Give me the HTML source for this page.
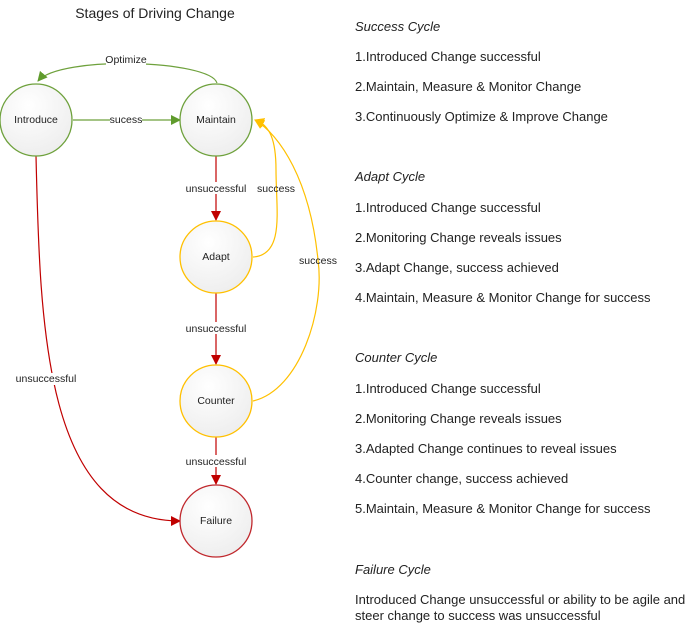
<!DOCTYPE html>
<html><head><style>
body{margin:0;width:698px;height:625px;background:#fff;overflow:hidden;font-family:"Liberation Sans",sans-serif;}
.t{position:absolute;left:355px;font-size:13px;color:#222;white-space:nowrap;}
.i{font-style:italic;}
</style></head><body>
<svg width="698" height="625" style="position:absolute;left:0;top:0" font-family="Liberation Sans, sans-serif">
<defs>
<radialGradient id="g" cx="0.4" cy="0.3" r="0.8"><stop offset="0" stop-color="#fff"/><stop offset="1" stop-color="#ececec"/></radialGradient>
<marker id="ag" markerWidth="10" markerHeight="10" refX="9" refY="5" orient="auto" markerUnits="userSpaceOnUse"><path d="M0,0L10,5L0,10z" fill="#5f9b2c"/></marker>
<marker id="ar" markerWidth="10" markerHeight="10" refX="9" refY="5" orient="auto" markerUnits="userSpaceOnUse"><path d="M0,0L10,5L0,10z" fill="#c00000"/></marker>
<marker id="ay" markerWidth="10" markerHeight="10" refX="9" refY="5" orient="auto" markerUnits="userSpaceOnUse"><path d="M0,0L10,5L0,10z" fill="#ffc000"/></marker>
</defs>
<text x="155" y="18" font-size="14" text-anchor="middle" fill="#222">Stages of Driving Change</text>
<g fill="none" stroke-width="1.2">
<path d="M217,83 C210,60 60,55 38,81" stroke="#6ea13c" marker-end="url(#ag)"/>
<path d="M73,120 L180,120" stroke="#6ea13c" marker-end="url(#ag)"/>
<path d="M216,156 L216,220" stroke="#c00000" marker-end="url(#ar)"/>
<path d="M216,293 L216,364" stroke="#c00000" marker-end="url(#ar)"/>
<path d="M216,437 L216,484" stroke="#c00000" marker-end="url(#ar)"/>
<path d="M36,156 C40,330 45,521 180,521" stroke="#c00000" marker-end="url(#ar)"/>
<path d="M253,257 C285,255 276,210 276,170 C276,140 270,125 255,120" stroke="#ffc000" marker-end="url(#ay)"/>
<path d="M253,401 C300,390 325,310 318,260 C310,180 280,135 255,120" stroke="#ffc000" marker-end="url(#ay)"/>
</g>
<g fill="#fff">
<rect x="106" y="54" width="40" height="12"/>
<rect x="110" y="114" width="32" height="12"/>
<rect x="187" y="182" width="58" height="12"/>
<rect x="187" y="322" width="58" height="12"/>
<rect x="187" y="455" width="58" height="12"/>
<rect x="17" y="373" width="58" height="12"/>
</g>
<g font-size="10.5" text-anchor="middle" fill="#222">
<text x="126" y="63">Optimize</text>
<text x="126" y="123">sucess</text>
<text x="216" y="192">unsuccessful</text>
<text x="276" y="192">success</text>
<text x="318" y="264">success</text>
<text x="216" y="332">unsuccessful</text>
<text x="216" y="465">unsuccessful</text>
<text x="46" y="382">unsuccessful</text>
</g>
<g stroke-width="1.3" fill="url(#g)">
<circle cx="36" cy="120" r="36" stroke="#6ea13c"/>
<circle cx="216" cy="120" r="36" stroke="#6ea13c"/>
<circle cx="216" cy="257" r="36" stroke="#ffc000"/>
<circle cx="216" cy="401" r="36" stroke="#ffc000"/>
<circle cx="216" cy="521" r="36" stroke="#c0282d"/>
</g>
<g font-size="10.5" text-anchor="middle" fill="#222">
<text x="36" y="123">Introduce</text>
<text x="216" y="123">Maintain</text>
<text x="216" y="260">Adapt</text>
<text x="216" y="404">Counter</text>
<text x="216" y="524">Failure</text>
</g>
</svg>
<div class="t i" style="top:19px">Success Cycle</div>
<div class="t" style="top:49px">1.Introduced Change successful</div>
<div class="t" style="top:79px">2.Maintain, Measure &amp; Monitor Change</div>
<div class="t" style="top:109px">3.Continuously Optimize &amp; Improve Change</div>
<div class="t i" style="top:169px">Adapt Cycle</div>
<div class="t" style="top:200px">1.Introduced Change successful</div>
<div class="t" style="top:230px">2.Monitoring Change reveals issues</div>
<div class="t" style="top:260px">3.Adapt Change, success achieved</div>
<div class="t" style="top:290px">4.Maintain, Measure &amp; Monitor Change for success</div>
<div class="t i" style="top:350px">Counter Cycle</div>
<div class="t" style="top:381px">1.Introduced Change successful</div>
<div class="t" style="top:411px">2.Monitoring Change reveals issues</div>
<div class="t" style="top:441px">3.Adapted Change continues to reveal issues</div>
<div class="t" style="top:471px">4.Counter change, success achieved</div>
<div class="t" style="top:501px">5.Maintain, Measure &amp; Monitor Change for success</div>
<div class="t i" style="top:562px">Failure Cycle</div>
<div class="t" style="top:592px">Introduced Change unsuccessful or ability to be agile and</div>
<div class="t" style="top:608px">steer change to success was unsuccessful</div>
</body></html>
